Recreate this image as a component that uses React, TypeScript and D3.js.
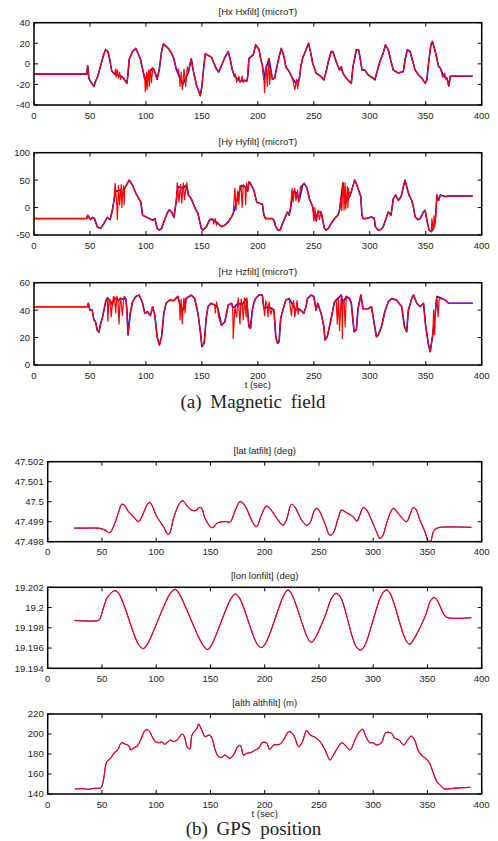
import React from 'react';
import * as d3 from 'd3';

type P = [number, number];

// ---------- axis ticks ----------
const timeTicks = [0, 50, 100, 150, 200, 250, 300, 350, 400];
const hxTicks = [-40, -20, 0, 20, 40];
const hyTicks = [-50, 0, 50, 100];
const hzTicks = [0, 20, 40, 60];
const latTicks = [47.498, 47.499, 47.5, 47.501, 47.502];
const latTickLabels = ['47.498', '47.499', '47.5', '47.501', '47.502'];
const lonTicks = [19.194, 19.196, 19.198, 19.2, 19.202];
const lonTickLabels = ['19.194', '19.196', '19.198', '19.2', '19.202'];
const altTicks = [140, 160, 180, 200, 220];

// ---------- magnetic field (t sec, microT) ----------
const hx: P[] = [[0,-10],[47,-10],[48,-2],[49,-14],[51,-18],[53.5,-22],[55,-17],[57,-12],[60,0],[62,8],[64,14],[66,12],[67.5,5],[69.5,-7],[72,-10],[75,-11],[78,-12],[80,-14],[83,-19],[84,-10],[85,4],[88,12],[91,15],[93,10],[95,5],[97,-5],[99,-15],[102,-10],[106,-4],[108,-8],[110,-15],[112,-5],[114,12],[115.6,19.5],[118,17],[120,15],[123,10],[125,5],[127,-5],[130,-13],[133,-20],[135,-15],[138,-8],[140.5,5],[142,-5],[145,-20],[148.6,-31],[150,-22],[151.5,-5],[153,10],[156,8],[158.5,6.5],[161,0],[163,-5],[165,-8],[167,-3],[170,5],[173.5,12],[175,6],[177,-5],[179,-12],[182,-15],[185,-17],[188,-16],[190,-17],[191,-12],[192,5],[194,7],[196,9],[198,18.5],[201,14],[202.5,5],[204,-1],[205.5,-15],[207,-5],[210,5],[213,-15],[215,-14],[216,-8],[219,7],[221,15],[223.4,7],[225,-3],[228,-7.5],[231,-14],[234,-19],[237,-15],[238.4,-2.6],[240,5.5],[243,13.7],[245.3,20],[247.4,10],[249,0.6],[252,-9],[256.5,-12.4],[259,-15.6],[261,-7.5],[263,2],[265.5,12],[267,12],[270,2],[273,-6],[274.5,-2.6],[276,-9],[279,-14],[283.5,-19],[285,-2.6],[288,13.7],[290,13.7],[292,2],[293,-6],[295.5,-6],[298.5,-10.7],[303,-14],[304.5,-15.6],[307,-6],[309,2.3],[312,10.4],[314,18.5],[316.5,13.7],[318.6,4],[321,-6],[325.5,-9],[330,-7.5],[331.5,4],[333.6,13.7],[336,12],[338,4],[340.5,-6],[343.5,-10.7],[346.5,-14],[349.5,-19],[351,-15.6],[352.5,0.6],[354.6,18.5],[356,21.8],[358.5,12],[361.5,-2.6],[363,-4],[366,-12],[369,-14],[370.6,-21.5],[372,-12],[392,-12]];
const hxFiltSpikes: P[] = [[73,-5],[73.5,-13],[74.5,-6],[75.5,-14],[76.5,-8],[77.5,-15],[99.5,-27],[100.5,-8],[101,-25],[102.5,-6],[103,-22],[104,-5],[105,-18],[107,-5],[129,-5],[130.5,-22],[131.5,-8],[132.5,-25],[134,-5],[135.5,-22],[137,-3],[180,-10],[181,-18],[183,-12],[184,-18],[186,-12],[187,-18],[206,-28],[207.5,-3],[208.5,-22],[209.5,0],[210.5,-20],[211.5,-5],[233,-25],[234.5,-15],[235.5,-24],[364,-8],[365,-13],[367,-9],[368,-15]];

const hy: P[] = [[0,-20],[47,-20],[48,-14],[50.5,-22],[52,-18],[54,-20],[56.5,-35],[59.5,-38],[62.5,-29],[65.5,-18],[68,-22],[70,-5],[71.5,13],[73,30],[77.5,32],[79,20],[81,35],[85,50],[88,41],[91,26],[95.5,10],[97,-14],[100,-17],[103,-20],[106,-23],[108,-20],[110,-38],[112,-41],[114,-38],[116.5,-23],[119.5,-8],[121,-4],[123,-8],[125,-18],[127,10],[128.5,38],[133,36],[136,40],[138,23],[140.5,16],[143.5,1],[146.5,-11],[149.5,-38],[151,-41],[154,-35],[157,-22],[160,-22],[164,-28],[167.5,-35],[170.5,-32],[173.5,-26],[176.5,-17],[178,-11],[181,10],[185,40],[188.6,38],[191,30],[192,47],[193.4,44],[196.4,32],[199,10],[202.4,7],[204,7],[205.4,-14],[207,-20],[213,-20],[214.4,-23],[216,-35],[218,-41],[220,-41],[222,-29],[223.4,-23],[226.4,-8],[228,-14],[229.4,1],[231,25],[232.4,30],[235,25],[237,13],[240,41],[241.4,44],[244,35],[246,16],[249,1],[250.5,-17],[252,-23],[253.5,-8],[256.5,-8],[258,-23],[259.5,-38],[261,-41],[263,-38],[265.5,-29],[268.5,-20],[271.5,-14],[273,-5],[274.5,20],[276,45],[279,10],[282,20],[283.5,29],[286.5,50],[288,44],[290,32],[292,20],[293,-14],[294,-20],[297,-20],[301.5,-17],[304,-20],[305,-35],[307.5,-41],[310,-40],[312,-35],[314,-23],[316.5,-8],[319,-14],[321,16],[323,23],[325.5,13],[328,20],[330,38],[331.5,50],[333,38],[335,23],[337.5,13],[339,1],[340.5,-17],[343,-22],[345,-20],[348,-8],[349.5,-5],[351,-23],[353,-41],[355,-44],[357,-38],[358.5,-23],[360,23],[361.5,13],[363,23],[367.5,20],[370,21],[392,21]];
const hyFiltSpikes: P[] = [[72.5,44],[74,5],[74.5,-22],[75.5,40],[76.5,5],[78,42],[78.5,0],[80,40],[80.5,5],[126.5,5],[128,45],[129.5,10],[131,42],[132,8],[133.5,45],[134.5,15],[136.5,45],[159,-20],[160.5,-30],[162,-20],[163,-32],[179.5,35],[180.5,-5],[182,30],[183,5],[184,40],[186,0],[187,42],[189,5],[190,45],[230.5,35],[231.5,10],[233,35],[234,12],[235.5,32],[236.5,10],[238,38],[250,-25],[251,0],[252.5,-25],[254,-5],[255,-22],[275,-5],[276.5,40],[277,-5],[278,45],[278.5,-2],[280,38],[280.5,0],[281,35],[355.5,-20],[356.5,-40],[357.5,-15],[358,-35],[359,-15]];

const hz: P[] = [[0,42.5],[48,42.5],[48.5,45],[50,40],[52,40],[53.5,33],[55,31.5],[56.5,25.5],[58,24],[59.5,30],[61,34],[62.5,40],[64,46],[65.5,49],[68,47],[70,44],[72,49],[75,47],[77.5,48.5],[80,48],[82,48.5],[83,40],[84,22],[86,37.6],[88,46],[91,50],[94,51],[97,45],[99,37.6],[101.5,38.8],[104,36],[106,42.5],[108,36],[110,20.6],[112,14.6],[114,20.6],[116,37.6],[118,45],[121,47.3],[125,47],[128.5,50],[130,45],[133,40],[136,48.5],[140.5,51],[143.5,48.5],[146.5,37.6],[149,22],[150,13.3],[152,15.8],[154,35],[155.5,42.5],[158,45],[161.5,43.7],[164,42],[167.5,29],[170.5,31.5],[173.5,43.7],[176.5,45],[177.5,42],[179.5,42.5],[182,45],[186,44],[190,48.5],[192,28],[193.4,26.7],[195,40],[196.4,45],[198,48.5],[201,51],[204,51],[205.4,41],[208.4,42.5],[213,41],[214.4,40],[216,20.6],[217.5,15.8],[219,17],[220.4,34],[222,39],[225,47.3],[228,48.5],[231,44],[234,40],[237,41],[241,37.6],[243,42.5],[244.4,48.5],[247.4,51],[250,50],[252,40],[253.5,45],[256.5,37.6],[259,28],[260,18.2],[262,20.6],[264,28],[265.5,34],[268.5,46],[270,47.3],[274.5,51],[276,45],[279,50],[282,48.5],[283.5,45],[286,24.3],[288,25.5],[289.5,41],[292,51],[294,41],[298.5,41],[301.5,42.5],[304,30],[306,20.6],[307.5,21.8],[310.5,28],[313.5,39],[316.5,46],[319.5,48.5],[324,47.3],[328.5,42.5],[331,28],[333,24.3],[334.5,40],[337.5,48.5],[339,51],[342,45],[345,42.5],[348,45],[350,28],[352.5,14.6],[354,9.7],[356,20.6],[358.5,37.6],[360,50],[364.5,48.5],[367.5,47.3],[370.5,45],[392,45]];
const hzFiltSpikes: P[] = [[66,32],[67,48],[69,35],[71,50],[73,38],[74,50],[76,30],[77,49],[79,36],[80.5,50],[130.5,33],[131.5,48],[132.5,30],[134,49],[135,38],[162,38],[163,46],[165,35],[178,19.4],[181,35],[182.5,49],[184,30],[185,48],[187,33],[188,49],[189.5,35],[206,36],[207,47],[209,35],[210,46],[211.5,37],[230,36],[232,47],[233,35],[235,47],[236,37],[271,30],[272,49],[273,25],[275,50],[275.5,19.4],[277,48],[278,28],[280,49],[356.5,25],[357,40],[358,22],[359,45],[361,35],[362,48]];

// ---------- GPS ----------
const lat: P[] = [[24.3,47.49868],[35,47.49868],[48,47.49867],[53,47.49858],[57,47.49845],[60.6,47.49875],[65,47.49942],[68.3,47.49987],[70.5,47.49983],[74.5,47.4995],[79,47.49925],[83.7,47.499],[86.8,47.49925],[91.4,47.49983],[93.8,47.49997],[96,47.49983],[100.6,47.49925],[106.8,47.49875],[110.5,47.49838],[112.3,47.49842],[116,47.49917],[120.6,47.49983],[124.3,47.50005],[126.8,47.49992],[131.4,47.49962],[136,47.49955],[140,47.49972],[142,47.49967],[145,47.49917],[150,47.49875],[152,47.4987],[156,47.49892],[160.6,47.499],[165,47.499],[168,47.49897],[173,47.49958],[177,47.5],[179,47.49997],[183.7,47.49962],[186,47.4993],[192.3,47.49875],[197,47.49933],[201.5,47.49978],[206,47.49958],[212.3,47.49908],[217,47.49883],[220,47.49908],[224.6,47.49987],[227.7,47.49975],[234,47.49908],[238.5,47.49883],[241.5,47.49892],[246,47.49958],[248.3,47.49967],[250.8,47.4995],[255.4,47.49892],[260,47.49833],[263,47.49842],[267.7,47.49917],[270.8,47.49958],[275.4,47.49945],[281.5,47.49925],[285,47.49903],[287.7,47.49933],[290.8,47.4997],[294,47.49958],[298.5,47.49908],[303,47.4985],[306,47.49817],[308.6,47.49828],[312.3,47.49892],[317,47.49958],[319,47.49967],[323,47.49942],[330.8,47.499],[333.8,47.49933],[336.9,47.4997],[339.4,47.49962],[343,47.49908],[347.7,47.4985],[350.8,47.49803],[353,47.49803],[355.4,47.4985],[358.5,47.49867],[361.5,47.49872],[390.5,47.49872]];

const lon: P[] = [[24.3,19.19873],[46.8,19.19873],[48.3,19.19893],[54.5,19.20091],[59,19.2015],[62,19.20167],[66,19.2013],[84,19.1963],[88.3,19.19595],[92,19.1964],[113,19.2014],[117.5,19.2018],[121,19.2014],[143,19.1963],[147.4,19.19585],[151,19.1963],[169,19.2009],[173,19.20134],[177,19.2009],[193,19.1964],[197,19.19605],[201,19.1965],[218,19.2013],[221.5,19.20174],[225,19.2013],[240,19.1969],[243,19.19655],[246,19.1969],[255.4,19.19909],[262,19.201],[266,19.2014],[270,19.201],[284,19.1962],[288.3,19.19579],[292,19.1962],[308,19.2013],[312.3,19.20174],[316,19.2013],[330,19.1968],[333.8,19.19638],[337,19.1968],[347.7,19.19909],[353,19.2007],[356.3,19.20101],[359,19.2007],[366,19.1992],[369,19.19899],[390.5,19.19899]];

const alt: P[] = [[25,145],[33.6,145.3],[36.7,144.7],[42.8,145.7],[49,146.3],[51.4,154],[54.4,172],[58,175.7],[61,180.7],[64.8,184.7],[68,191.3],[71.9,189.7],[75,188],[76.5,184],[79.5,186.3],[82.6,188],[85.6,194],[90.2,204],[93.3,203.3],[96.3,197.3],[99.4,192.3],[102.4,191.3],[105.5,192],[107.6,189.7],[110,191.3],[113,194],[116,192.3],[119.3,194],[123.9,200],[126,197.3],[128.4,187.3],[131,185],[133,199],[137.6,205.7],[139,210],[142.2,203.3],[145,197.3],[149,199],[151.4,195.7],[154.4,184],[157.5,177.3],[160.5,176.7],[163.6,179],[167.6,175.7],[171.3,179],[175,187.3],[177.6,188.5],[180.5,179],[183.5,180.7],[186.8,181.3],[191.4,184],[194.5,185.7],[197.6,191.3],[201.5,191.3],[204.6,184.7],[208.3,189],[213.8,189.7],[217.4,194],[222,202.3],[225,201.3],[228,195.7],[231.2,187.3],[234.3,191.3],[238.8,203.3],[241.9,199],[246.5,196.7],[251,192.3],[255.7,184],[260.2,174],[263.3,179],[267.9,187.3],[271,191.3],[275.5,187.3],[278.6,184],[283.2,194],[286.2,200.7],[290.2,204.7],[293.3,197.3],[296.9,191.3],[299.4,191.3],[303.7,189],[307.6,191.3],[311.6,201.3],[316.8,200.7],[319.9,195.7],[323.9,194],[328.1,189],[332.1,194.7],[335.2,198],[338.2,194],[341.3,184],[344.3,179],[348.3,175.7],[352,170.7],[355,162.3],[358.7,152.3],[362.7,148],[365.7,145],[373.4,145.7],[389.6,146.7]];

const withSpikes = (base: P[], extra: P[]): P[] =>
  [...base, ...extra].sort((a, b) => a[0] - b[0]);

const SANS = 'Liberation Sans, Arial, Helvetica, sans-serif';
const SERIF = 'Liberation Serif, Times New Roman, serif';
const TXT = '#222';

interface PanelProps {
  id: string;
  left: number; right: number; top: number; bottom: number;
  yDomain: [number, number];
  yTicks: number[];
  yLabels?: string[];
  title: string;
  blue: P[];
  red: P[];
  smooth?: boolean;
  blueWidth: number;
  redWidth: number;
  redOpacity: number;
  xLabel?: string;
}

function Panel(p: PanelProps) {
  const x = d3.scaleLinear().domain([0, 400]).range([p.left, p.right]);
  const y = d3.scaleLinear().domain(p.yDomain).range([p.bottom, p.top]);
  const line = d3
    .line<P>()
    .x((d) => x(d[0]))
    .y((d) => y(d[1]))
    .curve(p.smooth ? d3.curveCatmullRom.alpha(0.5) : d3.curveLinear);
  const tl = 4;
  const cx = (p.left + p.right) / 2;
  return (
    <g>
      <defs>
        <clipPath id={`clip-${p.id}`}>
          <rect x={p.left} y={p.top} width={p.right - p.left} height={p.bottom - p.top} />
        </clipPath>
      </defs>
      <g clipPath={`url(#clip-${p.id})`}>
        <path d={line(p.blue) || ''} fill="none" stroke="#0000ff" strokeWidth={p.blueWidth} strokeLinejoin="round" />
        <path d={line(p.red) || ''} fill="none" stroke="#ff0000" strokeOpacity={p.redOpacity} strokeWidth={p.redWidth} strokeLinejoin="round" />
      </g>
      {timeTicks.map((t) => (
        <g key={`x${t}`}>
          <line x1={x(t)} x2={x(t)} y1={p.bottom} y2={p.bottom - tl} stroke="#000" strokeWidth={1} />
          <line x1={x(t)} x2={x(t)} y1={p.top} y2={p.top + tl} stroke="#000" strokeWidth={1} />
          <text x={x(t)} y={p.bottom + 13.5} textAnchor="middle" fontFamily={SANS} fontSize={9.5} fill={TXT}>
            {t}
          </text>
        </g>
      ))}
      {p.yTicks.map((v, i) => (
        <g key={`y${v}`}>
          <line x1={p.left} x2={p.left + tl} y1={y(v)} y2={y(v)} stroke="#000" strokeWidth={1} />
          <line x1={p.right} x2={p.right - tl} y1={y(v)} y2={y(v)} stroke="#000" strokeWidth={1} />
          <text x={p.left - 4} y={y(v) + 3.4} textAnchor="end" fontFamily={SANS} fontSize={9.5} fill={TXT}>
            {p.yLabels ? p.yLabels[i] : String(v)}
          </text>
        </g>
      ))}
      <rect x={p.left} y={p.top} width={p.right - p.left} height={p.bottom - p.top} fill="none" stroke="#000" strokeWidth={1.5} />
      <text x={cx} y={p.top - 8} textAnchor="middle" fontFamily={SANS} fontSize={9.5} fill={TXT}>
        {p.title}
      </text>
      {p.xLabel && (
        <text x={cx} y={p.bottom + 23} textAnchor="middle" fontFamily={SANS} fontSize={9.5} fill={TXT}>
          {p.xLabel}
        </text>
      )}
    </g>
  );
}

export default function App() {
  const magL = 34, magR = 481.7, magH = 82.3;
  const gpsL = 47.7, gpsR = 481.7;
  const mag = { blueWidth: 1.6, redWidth: 1.2, redOpacity: 1 };
  const gps = { blueWidth: 1.0, redWidth: 1.2, redOpacity: 0.9, smooth: true };
  return (
    <svg
      width={498}
      height={841}
      viewBox="0 0 498 841"
      style={{ position: 'absolute', left: 0, top: 0, background: '#fff' }}
    >
      <rect x={0} y={0} width={498} height={841} fill="#fff" />
      <Panel id="hx" left={magL} right={magR} top={22.7} bottom={22.7 + magH} yDomain={[-40, 40]} yTicks={hxTicks}
        title="[Hx Hxfilt] (microT)" blue={hx} red={withSpikes(hx, hxFiltSpikes)} {...mag} />
      <Panel id="hy" left={magL} right={magR} top={152.7} bottom={152.7 + magH} yDomain={[-50, 100]} yTicks={hyTicks}
        title="[Hy Hyfilt] (microT)" blue={hy} red={withSpikes(hy, hyFiltSpikes)} {...mag} />
      <Panel id="hz" left={magL} right={magR} top={282.7} bottom={282.7 + magH} yDomain={[0, 60]} yTicks={hzTicks}
        title="[Hz Hzfilt] (microT)" blue={hz} red={withSpikes(hz, hzFiltSpikes)} xLabel="t (sec)" {...mag} />
      <text x={253} y={408} textAnchor="middle" fontFamily={SERIF} fontSize={19} fill={TXT} style={{ wordSpacing: '4px' }}>
        (a) Magnetic field
      </text>

      <Panel id="lat" left={gpsL} right={gpsR} top={461.7} bottom={541.7} yDomain={[47.498, 47.502]} yTicks={latTicks}
        yLabels={latTickLabels} title="[lat latfilt] (deg)" blue={lat} red={lat} {...gps} />
      <Panel id="lon" left={gpsL} right={gpsR} top={587.3} bottom={668.3} yDomain={[19.194, 19.202]} yTicks={lonTicks}
        yLabels={lonTickLabels} title="[lon lonfilt] (deg)" blue={lon} red={lon} {...gps} />
      <Panel id="alt" left={gpsL} right={gpsR} top={714} bottom={794} yDomain={[140, 220]} yTicks={altTicks}
        title="[alth althfilt] (m)" blue={alt} red={alt} xLabel="t (sec)" {...gps} />
      <text x={253.5} y={835} textAnchor="middle" fontFamily={SERIF} fontSize={19} fill={TXT} style={{ wordSpacing: '4px' }}>
        (b) GPS position
      </text>
    </svg>
  );
}
